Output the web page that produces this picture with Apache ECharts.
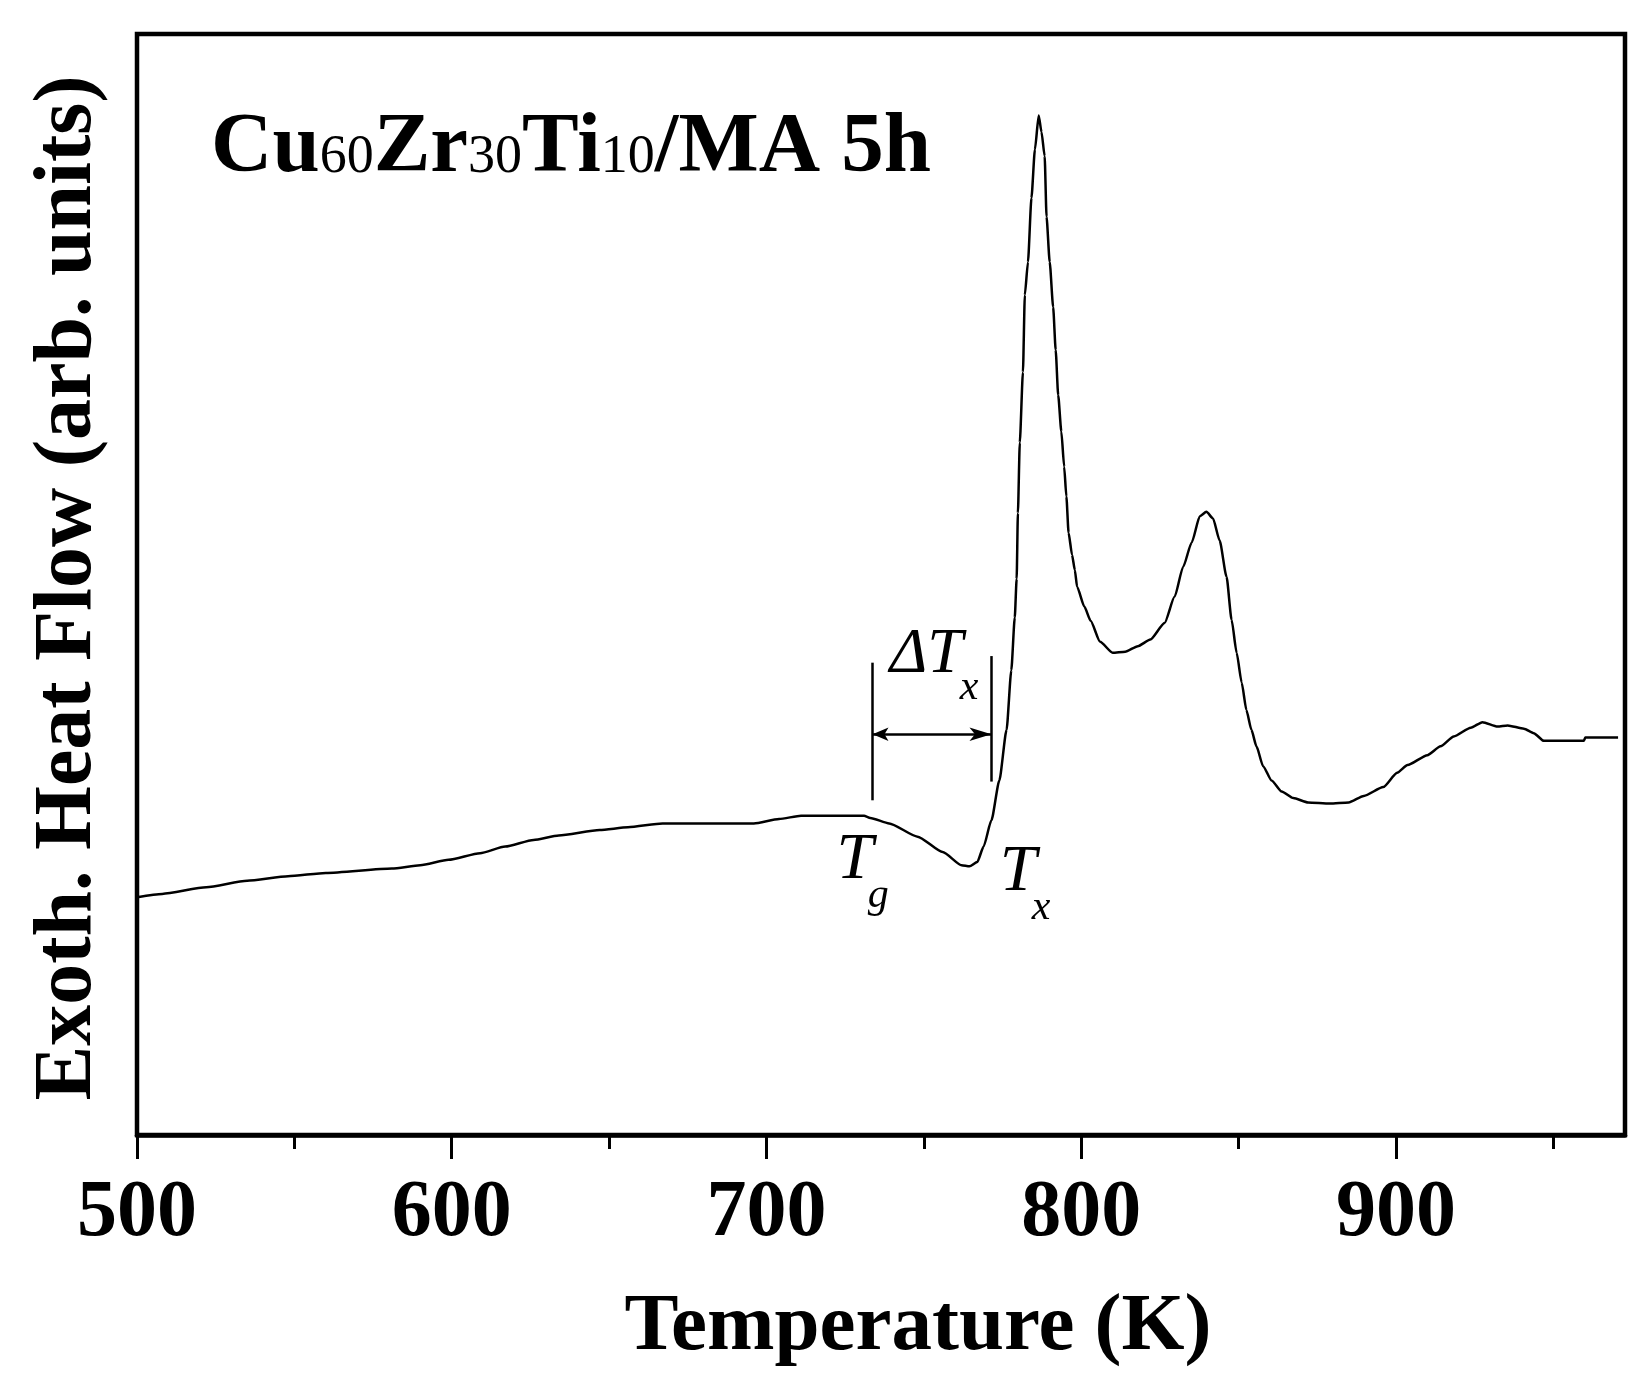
<!DOCTYPE html>
<html>
<head>
<meta charset="utf-8">
<script src="https://cdn.jsdelivr.net/npm/echarts@6.0.0/dist/echarts.min.js"></script>
<style>
  html, body { margin: 0; padding: 0; background: #fff; }
  #chart { width: 1650px; height: 1392px; }
</style>
</head>
<body>
<div id="chart"></div>
<script>
// DSC trace, Cu60Zr30Ti10 after 5 h milling (arb. units 0-100)
const temperature = [500, 508, 522, 535, 548, 560, 581, 590, 599, 609,
  617, 626, 634, 647, 656, 667, 696, 704, 711, 731,
  733, 739, 748, 756, 762, 764.5, 767, 769, 771.5, 774,
  776.3, 777.8, 778.9, 779.5, 779.9, 780.5, 781.5, 782.1, 783.1, 784.2,
  785.3, 786.5, 787.4, 788.4, 789, 790, 791.1, 791.9, 792.7, 793.7,
  794.6, 795.3, 796, 797.1, 798, 798.7, 801, 803, 806, 810,
  814, 818, 822, 826.5, 829.7, 832.4, 835.1, 837.7, 839.8, 841.9,
  844, 846.2, 847.8, 849.4, 851, 852.5, 854.1, 855.7, 857.8, 860.5,
  863.7, 867.4, 872.1, 879, 885, 889.8, 896, 900.4, 903.7, 910,
  914.2, 918.4, 923.8, 927.5, 932.3, 935.5, 940.7, 943.8, 947, 959.7,
  960.2, 970.6]
const heatFlow = [21.6, 21.9, 22.5, 23.1, 23.5, 23.8, 24.2, 24.5, 25.0, 25.6,
  26.2, 26.8, 27.2, 27.7, 27.95, 28.3, 28.3, 28.7, 29.0, 29.0,
  28.8, 28.3, 27.1, 25.7, 24.5, 24.4, 24.8, 26.2, 28.6, 32.2,
  36.8, 42.2, 47.0, 50.5, 56.5, 62.9, 69.3, 76.3, 79.3, 85.1,
  89.5, 92.6, 91.1, 88.9, 83.4, 79.3, 75.2, 71.3, 67.2, 63.9,
  60.7, 58.0, 54.7, 52.7, 51.3, 49.8, 48.0, 46.7, 44.8, 43.8,
  43.9, 44.4, 45.0, 46.5, 48.9, 51.6, 53.8, 56.2, 56.6, 56.0,
  54.0, 50.7, 46.8, 43.8, 41.1, 38.6, 36.8, 35.3, 33.5, 32.2,
  31.2, 30.6, 30.2, 30.1, 30.2, 30.8, 31.6, 32.9, 33.6, 34.5,
  35.3, 36.2, 37.0, 37.5, 37.1, 37.2, 36.9, 36.5, 35.8, 35.8,
  36.1, 36.1]

const majorTicks = [500, 600, 700, 800, 900]
const minorTicks = [550, 650, 750, 850, 950]

// Tg / Tx marker lines: [temperature, from, to]
const tgLine = [733.7, 30.4, 42.9]
const txLine = [771.5, 32.1, 43.5]
const arrowLevel = 36.4

const serif = '"Liberation Serif", "Times New Roman", serif'

// annotation texts, anchored in data units (left edge, baseline)
const notes = [
  { text: 'ΔT', k: 739.2, v: 41.6, size: 64 },
  { text: 'x', k: 761.4, v: 39.3, size: 42 },
  { text: 'T', k: 722.3, v: 22.9, size: 66 },
  { text: 'g', k: 732.2, v: 20.4, size: 42 },
  { text: 'T', k: 774.1, v: 21.8, size: 66 },
  { text: 'x', k: 784.3, v: 19.3, size: 42 }
]

const chart = echarts.init(document.getElementById('chart'))

const option = {
  animation: false,
  backgroundColor: '#fff',
  grid: {
    left: 137, right: 25, top: 34, bottom: 257,
    show: true, borderColor: '#000', borderWidth: 4.5
  },
  xAxis: [
    {
      type: 'value', min: 500, max: 972.8,
      axisLine: { show: true, lineStyle: { color: '#000', width: 4.5 } },
      axisTick: { show: true, length: 24, customValues: majorTicks, lineStyle: { color: '#000', width: 3 } },
      axisLabel: {
        customValues: majorTicks, showMinLabel: true, margin: 39,
        color: '#000', fontFamily: serif, fontWeight: 'bold', fontSize: 80
      },
      splitLine: { show: false }
    },
    {
      type: 'value', min: 500, max: 972.8, position: 'bottom',
      axisLine: { show: false },
      axisTick: { show: true, length: 14, customValues: minorTicks, lineStyle: { color: '#000', width: 3 } },
      axisLabel: { show: false },
      splitLine: { show: false }
    }
  ],
  yAxis: { type: 'value', min: 0, max: 100, show: false },
  series: [{
    type: 'line',
    xAxisIndex: 0,
    data: temperature.map((t, i) => [t, heatFlow[i]]),
    showSymbol: false,
    silent: true,
    smooth: 0.2,
    smoothMonotone: 'x',
    lineStyle: { color: '#000', width: 2.5 },
    markLine: {
      silent: true,
      symbol: ['none', 'none'],
      label: { show: false },
      lineStyle: { color: '#000', width: 2.5, type: 'solid' },
      data: [
        [{ coord: [tgLine[0], tgLine[1]] }, { coord: [tgLine[0], tgLine[2]] }],
        [{ coord: [txLine[0], txLine[1]] }, { coord: [txLine[0], txLine[2]] }],
        [
          { coord: [tgLine[0], arrowLevel], symbol: 'arrow', symbolSize: [10, 16] },
          { coord: [txLine[0], arrowLevel], symbol: 'arrow', symbolSize: [10, 22] }
        ]
      ]
    }
  }]
}

chart.setOption(option)

// text placed by baseline; canvas 'middle' sits ~0.3375em above it for this font
const graphics = notes.map(n => {
  const p = chart.convertToPixel({ seriesIndex: 0 }, [n.k, n.v])
  return {
    type: 'text',
    style: {
      x: p[0], y: p[1] - 0.3375 * n.size,
      text: n.text, fill: '#000',
      font: 'italic ' + n.size + 'px ' + serif,
      align: 'left', verticalAlign: 'middle'
    }
  }
})

graphics.push({
  type: 'text',
  style: {
    x: 211, y: 82,
    text: '{m|Cu}{s|60}{m|Zr}{s|30}{m|Ti}{s|10}{m|/MA 5h}',
    fill: '#000',
    rich: {
      m: { fontFamily: serif, fontWeight: 'bold', fontSize: 85, lineHeight: 110, verticalAlign: 'bottom' },
      s: { fontFamily: serif, fontSize: 54, lineHeight: 110, verticalAlign: 'bottom', padding: [0, 0, 7, 0] }
    }
  }
})

graphics.push({
  type: 'text',
  style: {
    x: 918, y: 1355 - 0.3375 * 81,
    text: 'Temperature (K)', fill: '#000',
    font: 'bold 81px ' + serif,
    align: 'center', verticalAlign: 'middle'
  }
})

graphics.push({
  type: 'text',
  x: 69, y: 588,
  rotation: Math.PI / 2,
  style: {
    x: 0, y: 0,
    text: 'Exoth. Heat Flow (arb. units)', fill: '#000',
    font: 'bold 82px ' + serif,
    align: 'center', verticalAlign: 'middle'
  }
})

chart.setOption({ graphic: graphics })
</script>
</body>
</html>
